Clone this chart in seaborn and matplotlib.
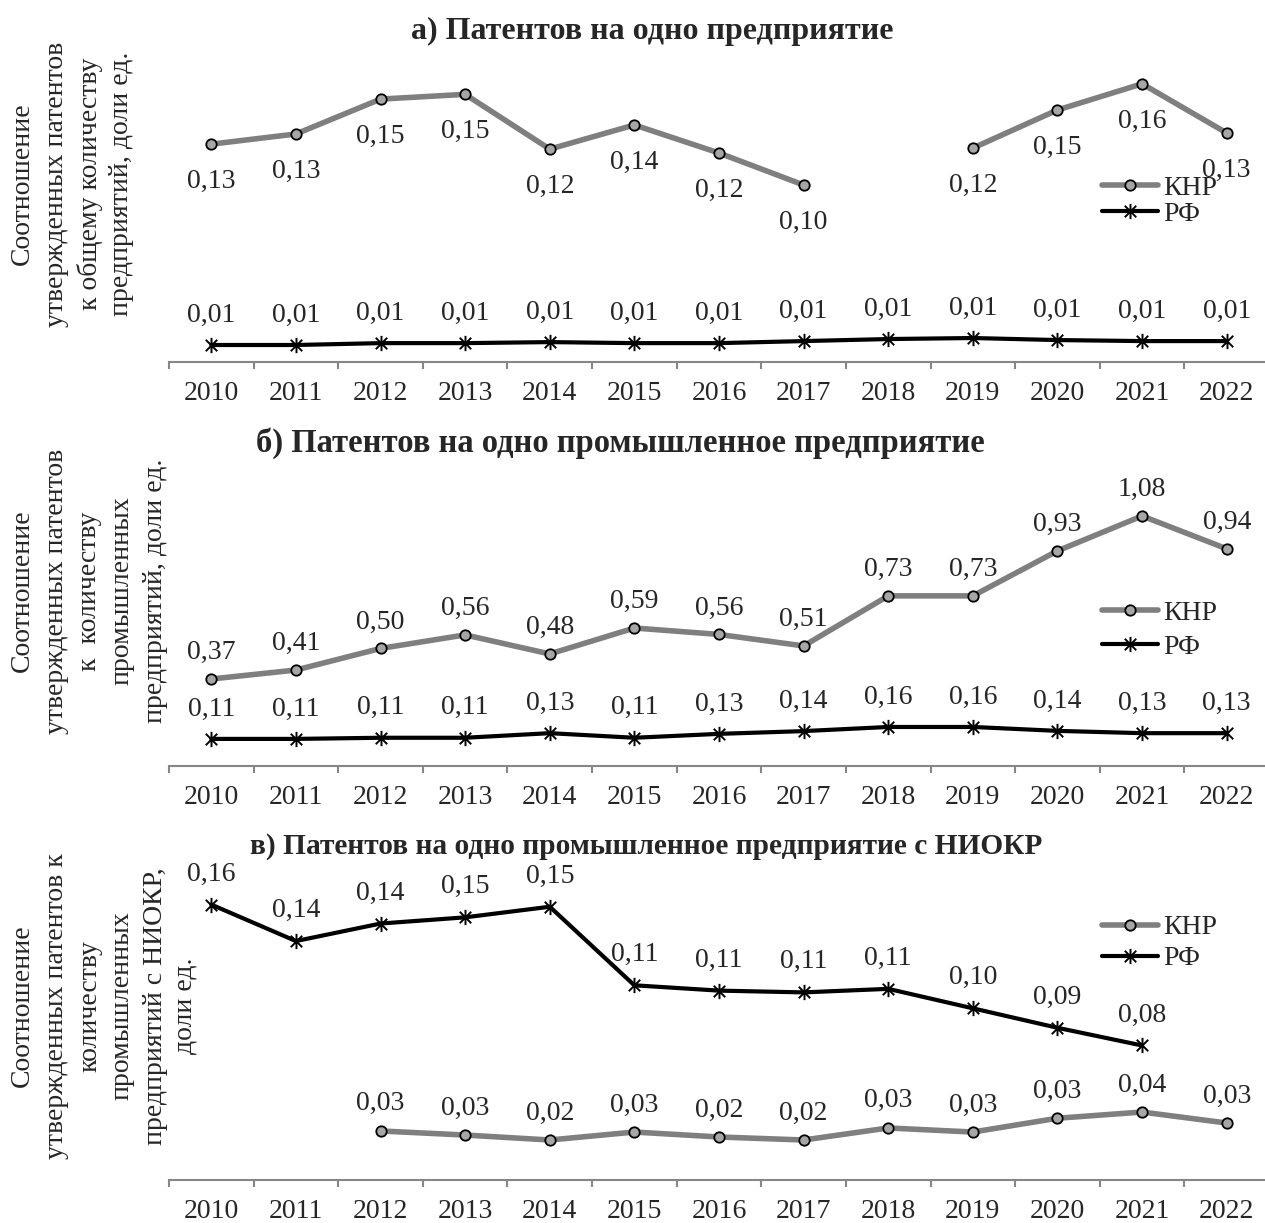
import numpy as np
import pandas as pd
import matplotlib
matplotlib.use("Agg")
import matplotlib.pyplot as plt
from matplotlib.lines import Line2D
from matplotlib.path import Path
import seaborn as sns

YEARS = list(range(2010, 2023))

# а) патентов на одно предприятие
A_CHN = [0.1255, 0.1315, 0.152, 0.1548, 0.1226, 0.1368, 0.1203, 0.1015, np.nan,
         0.1232, 0.1456, 0.161, 0.1321]
A_RUS = [0.0074, 0.0074, 0.0085, 0.0085, 0.0091, 0.0085, 0.0085, 0.0097, 0.0109,
         0.0115, 0.0103, 0.0097, 0.0097]

# б) патентов на одно промышленное предприятие
B_CHN = [0.37, 0.409, 0.503, 0.562, 0.479, 0.592, 0.564, 0.514, 0.732, 0.732,
         0.928, 1.08, 0.937]
B_RUS = [0.109, 0.109, 0.114, 0.114, 0.134, 0.114, 0.131, 0.143, 0.161, 0.161,
         0.144, 0.134, 0.134]

# в) патентов на одно промышленное предприятие с НИОКР
C_CHN = [np.nan, np.nan, 0.0277, 0.0254, 0.0226, 0.0271, 0.0243, 0.0226, 0.0294,
         0.0271, 0.0349, 0.0384, 0.0322]
C_RUS = [0.1556, 0.135, 0.1449, 0.1484, 0.1544, 0.110, 0.107, 0.106, 0.108,
         0.097, 0.086, 0.076, np.nan]

TITLES = ["а) Патентов на одно предприятие",
          "б) Патентов на одно промышленное предприятие",
          "в) Патентов на одно промышленное предприятие с НИОКР"]
YLABELS = [["Соотношение", "утвержденных патентов", "к общему количеству",
            "предприятий, доли ед."],
           ["Соотношение", "утвержденных патентов", "к  количеству",
            "промышленных", "предприятий, доли ед."],
           ["Соотношение", "утвержденных патентов к", "количеству",
            "промышленных", "предприятий с НИОКР,", "доли ед."]]
LEGEND = ["КНР", "РФ"]

W, H = 1265, 1223
GRAY_LINE = "#7f7f7f"
GRAY_FILL = "#a6a6a6"
AXIS_GRAY = "#868686"
FS = 20

sns.set_theme(style="white")
plt.rcParams["font.family"] = ["Liberation Serif", "DejaVu Serif"]

STAR = Path([(0, -1), (0, 1), (-0.75, -0.75), (0.75, 0.75), (-0.75, 0.75), (0.75, -0.75)],
            [Path.MOVETO, Path.LINETO] * 3)

CHN_STYLE = dict(color=GRAY_LINE, linewidth=4, marker="o", markersize=7.5,
                 markerfacecolor=GRAY_FILL, markeredgecolor="black", markeredgewidth=1.3)
RUS_STYLE = dict(color="black", linewidth=3, marker=STAR, markersize=11,
                 markerfacecolor="black", markeredgecolor="black", markeredgewidth=1.4)


def fmt(v):
    return f"{v:.2f}".replace(".", ",")


def draw(ax, values, style, dy):
    df = pd.DataFrame({"pos": np.arange(len(YEARS)), "value": values})
    df["seg"] = df["value"].isna().cumsum()
    df = df.dropna()
    sns.lineplot(data=df, x="pos", y="value", units="seg", estimator=None,
                 ax=ax, legend=False, **style)
    for x, v in zip(df["pos"], df["value"]):
        ax.annotate(fmt(v), (x, v), xytext=(0, dy), textcoords="offset points",
                    ha="center", va="center", fontsize=FS)


def style_axis(ax):
    ax.set_xlim(-0.5, 12.5)
    ax.set_xticks(np.arange(-0.5, 13, 1))
    ax.set_xticklabels([])
    ax.set_xticks(np.arange(13), labels=[str(y) for y in YEARS], minor=True)
    ax.tick_params(axis="x", which="major", bottom=True, length=5, width=1.5,
                   color=AXIS_GRAY, direction="out")
    ax.tick_params(axis="x", which="minor", bottom=True, length=0, pad=13.5,
                   labelsize=FS)
    ax.set_yticks([])
    ax.set_xlabel("")
    ax.set_ylabel("")
    for s in ("left", "right", "top"):
        ax.spines[s].set_visible(False)
    ax.spines["bottom"].set_color(AXIS_GRAY)
    ax.spines["bottom"].set_linewidth(1.5)
    ax.patch.set_alpha(0)


def axes_at(fig, top_px, bottom_px):
    return fig.add_axes([169 / W, 1 - bottom_px / H, 1100 / W, (bottom_px - top_px) / H])


fig = plt.figure(figsize=(W / 100, H / 100), dpi=100)

# panel a
ax_a = axes_at(fig, 60, 362)
draw(ax_a, A_CHN, CHN_STYLE, -27)
draw(ax_a, A_RUS, RUS_STYLE, 21.5)
ax_a.set_ylim(-0.0026, 0.175)
style_axis(ax_a)

# panel b
ax_b = axes_at(fig, 479, 766)
draw(ax_b, B_CHN, CHN_STYLE, 19)
draw(ax_b, B_RUS, RUS_STYLE, 21.5)
ax_b.set_ylim(-0.009, 1.241)
style_axis(ax_b)

# panel c
ax_c = axes_at(fig, 880, 1180)
draw(ax_c, C_RUS, RUS_STYLE, 22)
draw(ax_c, C_CHN, CHN_STYLE, 19.5)
ax_c.set_ylim(0, 0.1695)
style_axis(ax_c)

# titles
for (x, y), t, fs in zip([(652, 31), (620, 443), (646, 846)], TITLES, [23, 23.5, 21.2]):
    fig.text(x / W, 1 - y / H, t, ha="center", va="center", fontsize=fs,
             fontweight="bold")

# y labels, one text per line
line_x = [22, 57, 90, 122, 155, 185]
for yc, lines in zip([184, 591, 1006], YLABELS):
    for x, line in zip(line_x, lines):
        fig.text(x / W, 1 - yc / H, line, rotation=90, ha="center", va="center",
                 fontsize=FS)

# legends
handles = [Line2D([], [], **CHN_STYLE), Line2D([], [], **RUS_STYLE)]
for yc, sp in zip([201, 630, 943], [0.02, 0.3, 0.2]):
    fig.legend(handles, LEGEND, loc="center left",
               bbox_to_anchor=(1102 / W, 1 - yc / H), bbox_transform=fig.transFigure,
               frameon=False, fontsize=FS, borderpad=0, borderaxespad=0,
               handlelength=2.0, handletextpad=0.2, labelspacing=sp, numpoints=1)

fig.savefig("out.png", dpi=100)
